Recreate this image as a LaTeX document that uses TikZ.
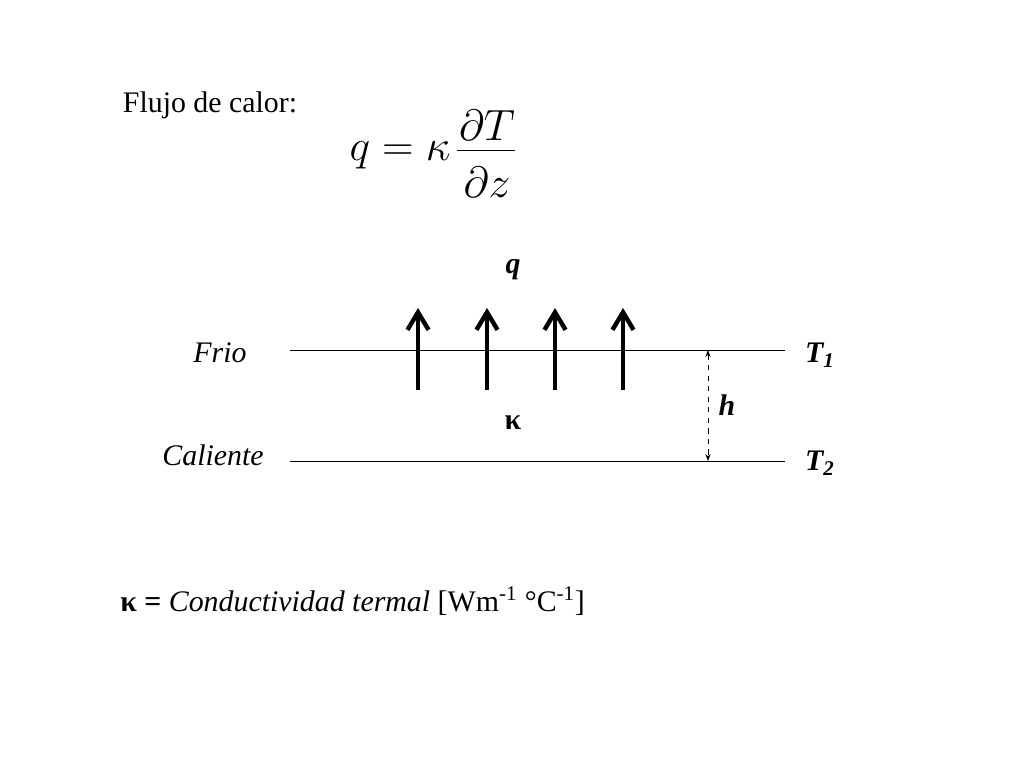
\documentclass[tikz,border=0pt]{standalone}
\usepackage{fontspec}
\setmainfont{Liberation Serif}
\usetikzlibrary{arrows.meta,positioning}
\tikzset{
    %Define style for labels
    lbl/.style={
           font=\fontsize{17}{20}\selectfont,
           inner sep=0pt},
    eqn/.style={
           font=\fontsize{23}{26}\selectfont,
           inner sep=0pt},
    % Define line styles
    layer/.style={
           thin},
    flux/.style={
           -{Straight Barb[length=10pt,width=12pt,line width=2.5pt]},
           line width=2.5pt},
    gap/.style={
           {Stealth[length=4pt]}-{Stealth[length=4pt]},
           dashed}
}
\begin{document}
\begin{tikzpicture}[x=0.02cm,y=-0.02cm]
  \useasboundingbox (0,0) rectangle (1024,768);
  \node[lbl] (title) at (210,105) {Flujo de calor:};
  \node[eqn] (lhs) at (400,155) {$q=\kappa$};
  \node[eqn] (num) at (487,125) {$\partial T$};
  \node[eqn] (den) at (487,182) {$\partial z$};
  \draw[very thin] (457,150) -- (515,150);
  % layers
  \coordinate (c1) at (290,350);
  \coordinate (c2) at (785,350);
  \coordinate (w1) at (290,461);
  \coordinate (w2) at (785,461);
  \draw[layer] (c1) -- (c2);
  \draw[layer] (w1) -- (w2);
  \node[lbl,font=\fontsize{17}{20}\selectfont\itshape] (frio) at (220,353) {Frio};
  \node[lbl,font=\fontsize{17}{20}\selectfont\itshape] (caliente) at (213,455) {Caliente};
  \node[lbl,font=\fontsize{17}{20}\selectfont\bfseries\itshape] (t1) at (820,355) {T\textsubscript{1}};
  \node[lbl,font=\fontsize{17}{20}\selectfont\bfseries\itshape] (t2) at (820,463) {T\textsubscript{2}};
  % heat flux arrows
  \foreach \x/\n in {418/a,487/b,555/c,623/d} {
    \coordinate (s\n) at (\x,390);
    \coordinate (e\n) at (\x,308);
    \draw[flux] (s\n) -- (e\n);
  }
  \node[lbl,font=\fontsize{17}{20}\selectfont\bfseries\itshape] (q) at (513,270) {q};
  \node[lbl,font=\fontsize{17}{20}\selectfont\bfseries] (kappa) at (513,423) {κ};
  % thickness
  \coordinate (h1) at (708,350);
  \coordinate (h2) at (708,461);
  \draw[gap] (h1) -- (h2);
  \node[lbl,font=\fontsize{17}{20}\selectfont\bfseries\itshape] (h) at (727,405) {h};
  \node[lbl,anchor=west] (def) at (120,601) {\textbf{κ =} \textit{Conductividad termal} [Wm\textsuperscript{-1} °C\textsuperscript{-1}]};
\end{tikzpicture}
\end{document}
